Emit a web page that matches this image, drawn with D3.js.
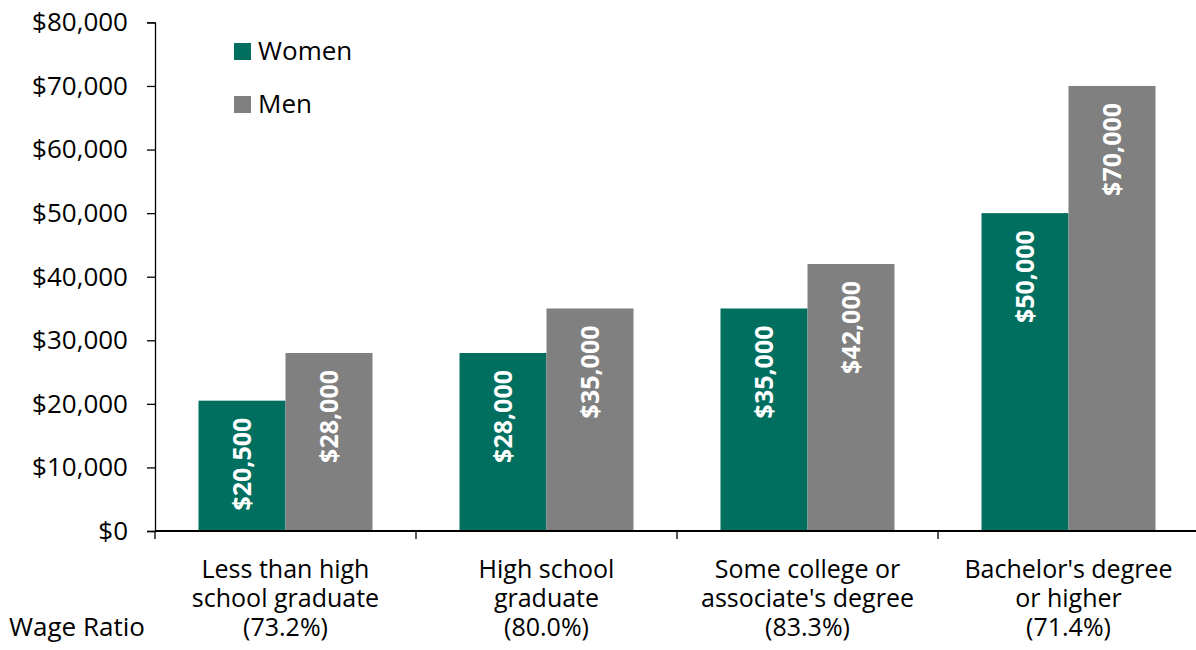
<!DOCTYPE html>
<html><head><meta charset="utf-8">
<script src="https://cdn.jsdelivr.net/npm/d3@7"></script>
<style>body{margin:0;background:#fff}svg{display:block}text{font-family:"Open Sans",sans-serif}</style>
</head><body><svg id="c" width="1196" height="650"></svg>
<script>
const categories = [["Less than high","school graduate","(73.2%)"],["High school","graduate","(80.0%)"],["Some college or","associate's degree","(83.3%)"],["Bachelor's degree","or higher","(71.4%)"]];
const women = [20500, 28000, 35000, 50000];
const men = [28000, 35000, 42000, 70000];
const seriesNames = ["Women","Men"];
const colors = ["#006f5f","#808080"];
const yTicks = [0,10000,20000,30000,40000,50000,60000,70000,80000];

const svg = d3.select("#c");
const mLeft = 155, mRight = 1199, mTop = 22.4, mBottom = 531;
const x = d3.scaleBand().domain(d3.range(categories.length)).range([mLeft,mRight]).paddingInner(0).paddingOuter(0);
const xs = d3.scaleBand().domain([0,1]).range([0,x.bandwidth()]).paddingInner(0).paddingOuter(0.5);
const y = d3.scaleLinear().domain([0,80000]).range([mBottom,mTop]);
const fmt = d => "$" + d3.format(",")(d);

// y axis
const ya = svg.append("g").attr("transform",`translate(${mLeft},0)`)
  .call(d3.axisLeft(y).tickValues(yTicks).tickFormat(fmt).tickSize(8).tickPadding(19));
ya.select(".domain").attr("stroke","#000").attr("stroke-width",1.3);
ya.selectAll(".tick line").attr("stroke","#000").attr("stroke-width",1.3);
ya.selectAll(".tick text").attr("font-size",26).attr("fill","#000").attr("font-family","Open Sans");

// bars
const data = [];
categories.forEach((c,i)=>{ data.push({i,s:0,v:women[i]}); data.push({i,s:1,v:men[i]}); });
const g = svg.append("g");
g.selectAll("rect").data(data).join("rect")
  .attr("x",d=>x(d.i)+xs(d.s)).attr("width",xs.bandwidth())
  .attr("y",d=>y(d.v)).attr("height",d=>y(0)-y(d.v))
  .attr("fill",d=>colors[d.s]);
g.selectAll("text.lbl").data(data).join("text").attr("class","lbl")
  .attr("transform",d=>`translate(${x(d.i)+xs(d.s)+xs.bandwidth()/2+9},${y(d.v)+17}) rotate(-90)`)
  .attr("text-anchor","end").attr("fill","#fff").attr("font-weight","bold").attr("font-size",25)
  .text(d=>fmt(d.v));

// x axis
const xa = svg.append("g").attr("transform",`translate(0,${mBottom})`);
xa.append("line").attr("x1",mLeft).attr("x2",mRight).attr("stroke","#000").attr("stroke-width",2);
const bounds = d3.range(categories.length).map(i=>x(i));
xa.selectAll("line.t").data(bounds).join("line").attr("class","t")
  .attr("x1",d=>d).attr("x2",d=>d).attr("y1",0).attr("y2",8).attr("stroke","#000").attr("stroke-width",1.3);
const cl = svg.append("g");
categories.forEach((lines,i)=>{
  lines.forEach((t,j)=>{
    cl.append("text").attr("x",x(i)+x.bandwidth()/2).attr("y",578+j*29)
      .attr("text-anchor","middle").attr("font-size",25).attr("fill","#000").text(t);
  });
});
svg.append("text").attr("x",9).attr("y",636).attr("font-size",26).attr("fill","#000").text("Wage Ratio");

// legend
const lg = svg.append("g");
seriesNames.forEach((n,k)=>{
  lg.append("rect").attr("x",234).attr("y",43+k*53).attr("width",17).attr("height",17).attr("fill",colors[k]);
  lg.append("text").attr("x",258).attr("y",60+k*53).attr("font-size",26).attr("fill","#000").text(n);
});
</script></body></html>
